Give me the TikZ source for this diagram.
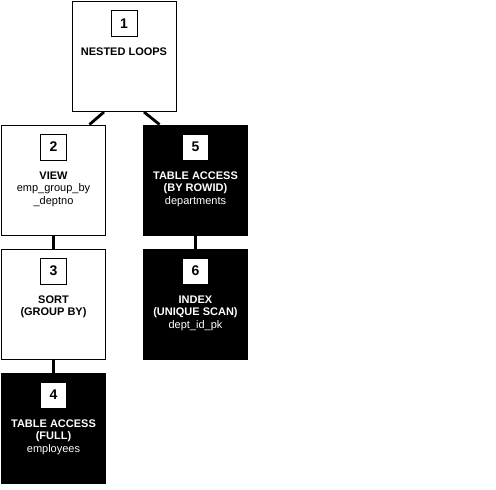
\documentclass[tikz,border=0pt]{standalone}
\usepackage{fontspec}
\setmainfont{Liberation Sans}
\usetikzlibrary{positioning}
\tikzset{opbox/.style={draw,line width=1pt,fill=white,minimum width=104pt,minimum height=110pt,inner sep=0pt},
         rowbox/.style={opbox,fill=black},
         stepnum/.style={draw=black,line width=1pt,fill=white,text=black,minimum size=26pt,inner sep=0pt,font=\fontsize{14}{14}\selectfont\bfseries},
         optext/.style={align=center,inner sep=0pt,anchor=north,font=\fontsize{11}{12.5}\selectfont},
         wtext/.style={optext,text=white},
         link/.style={line width=2.8pt},
         }
\begin{document}
\begin{tikzpicture}[x=1pt,y=1pt]
		\useasboundingbox[fill=white] (0,0) rectangle (496,-490);
		\node[opbox] (n1) at (124,-56.5) {};
		\node[opbox] (n2) at (53.5,-180) {};
		\node[opbox,below=13pt of n2] (n3) {};
		\node[rowbox,below=13pt of n3] (n4) {};
		\node[rowbox,right=37pt of n2] (n5) {};
		\node[rowbox,below=13pt of n5] (n6) {};
		\foreach \n/\k in {n1/1,n2/2,n3/3,n4/4,n5/5,n6/6}
			\node[stepnum,below=9pt of \n.north] (\n num) {\k};
		\node[optext,below=47pt of n1.north] (n1txt) {\textbf{NESTED LOOPS}};
		\node[optext,below=47pt of n2.north] (n2txt) {\textbf{VIEW}\\emp\_group\_by\\\_deptno};
		\node[optext,below=47pt of n3.north] (n3txt) {\textbf{SORT}\\\textbf{(GROUP BY)}};
		\node[wtext,below=47pt of n4.north] (n4txt) {\textbf{TABLE ACCESS}\\\textbf{(FULL)}\\employees};
		\node[wtext,below=47pt of n5.north] (n5txt) {\textbf{TABLE ACCESS}\\\textbf{(BY ROWID)}\\departments};
		\node[wtext,below=47pt of n6.north] (n6txt) {\textbf{INDEX}\\\textbf{(UNIQUE SCAN)}\\dept\_id\_pk};
		\draw[link] ([xshift=-20pt]n1.south) -- ([xshift=36pt]n2.north);
		\draw[link] ([xshift=20pt]n1.south) -- ([xshift=-36pt]n5.north);
		\draw[link] (n2.south) -- (n3.north);
		\draw[link] (n3.south) -- (n4.north);
		\draw[link] (n5.south) -- (n6.north);
\end{tikzpicture}
\end{document}
